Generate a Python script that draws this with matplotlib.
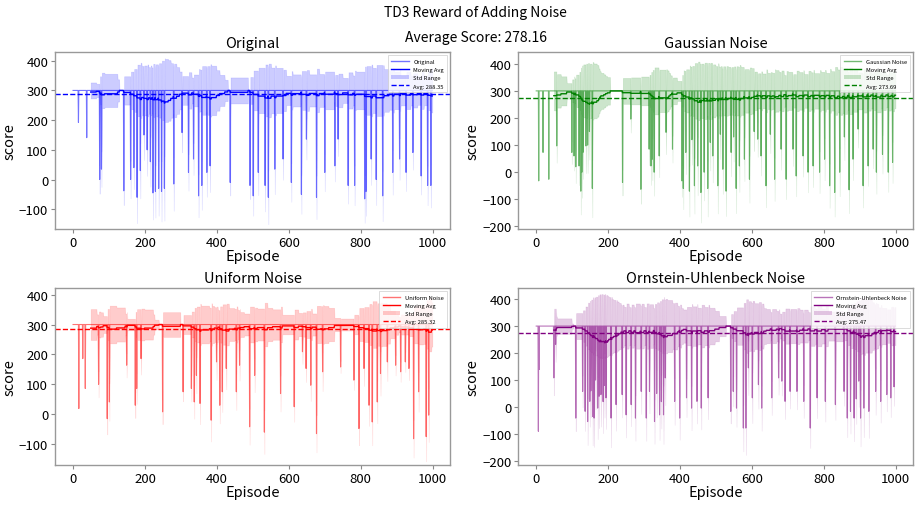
import numpy as np
import pandas as pd
import matplotlib
matplotlib.use("Agg")
import matplotlib.pyplot as plt
from matplotlib.lines import Line2D
from matplotlib.patches import Patch
from matplotlib.ticker import MultipleLocator
from matplotlib.colors import to_rgba

plt.rcParams['font.family'] = ['Noto Sans CJK SC', 'DejaVu Sans']

n_episodes = 1000
base_score = 300
window = 50

titles = ['Original', 'Gaussian Noise', 'Uniform Noise', 'Ornstein-Uhlenbeck Noise']
colors = ['blue', 'green', 'red', 'purple']
avg_scores = [288.35, 273.69, 285.32, 275.47]
overall_avg = 278.16
y_limits = [(-167, 429), (-210, 443), (-170, 422), (-215, 441)]

# episodes where the score drops below the ~300 plateau, and the score reached
orig_dip_ep = [15, 38, 74, 79, 141, 160, 169, 178, 187, 197, 206, 215, 222, 229, 238, 246, 254,
               280, 303, 321, 335, 349, 358, 372, 381, 437, 492, 501, 515, 534, 543, 561, 584,
               607, 635, 649, 677, 700, 728, 737, 765, 783, 811, 815, 829, 843, 861, 889, 908,
               926, 945, 968, 986, 995]
orig_dip_val = [192, 141, 0, 35, -38, 0, 40, -60, 30, 150, 100, 60, -45, -40, -30, -40, -30,
                -15, 158, 24, 69, -55, -20, 24, 46, -10, -20, -55, 24, -20, -60, 35, 69,
                -10, -50, 136, -60, 24, 46, 136, -20, -20, -65, -40, 69, 0, -55, 24, 69,
                24, 91, 12, -20, -20]

gauss_dip_ep = [7, 19, 35, 57, 99, 105, 110, 119, 124, 127, 130, 138, 143, 148, 156,
                240, 263, 291, 314, 319, 323, 328, 342, 361, 379, 405, 409, 416, 426, 433, 440,
                449, 458, 467, 477, 484, 491, 505, 512, 519, 528, 542, 549, 556, 565, 579, 593,
                606, 616, 625, 639, 651, 663, 681, 695, 714, 723, 742, 756, 770, 788, 802, 816,
                830, 844, 857, 870, 881, 895, 909, 923, 937, 946, 963, 979, 991]
gauss_dip_val = [-32, 73, -26, 97, 73, 60, 20, 23, -70, 0, 73, 97, 100, 150, -60,
                 -38, 196, -63, 85, 23, 48, 0, 60, 147, 85, -32, -60, 73, -70, 120, -50,
                 23, -75, 0, -60, 110, 60, -50, 140, 11, -70, 73, 130, -60, 23, 48, -26,
                 150, 122, 60, -50, 140, -26, 85, -26, 85, -14, 60, 0, 23, 0, 48, -50,
                 -75, 0, 130, -65, 48, 159, -50, 23, 85, 0, 66, 0, 36]

unif_dip_ep = [16, 27, 34, 71, 95, 101, 149, 173, 177, 189, 249, 306, 329, 337, 343, 353, 384,
               399, 408, 415, 426, 454, 463, 491, 505, 532, 577, 615, 638, 648, 661, 677, 694,
               744, 781, 795, 809, 823, 832, 846, 855, 874, 897, 911, 924, 934, 947, 961, 982,
               989]
unif_dip_val = [19, 186, 86, 100, -15, 41, 164, 30, 86, 186, 8, 75, 86, 41, 130, 36, -20,
                175, 30, 75, 153, 75, 164, -42, 130, -60, 69, 25, 209, 153, 97, -65, 142,
                158, 114, -48, 153, 30, -26, 41, 136, 175, 164, 142, 175, 153, -82, 75, -75,
                -3]

ou_dip_ep = [6, 8, 49, 54, 110, 129, 136, 143, 149, 152, 157, 161, 165, 171, 175, 180, 186, 190,
             194, 208, 222, 239, 250, 264, 276, 292, 306, 315, 329, 335, 343, 348, 354, 359,
             385, 399, 418, 432, 447, 459, 478, 541, 548, 557, 576, 583, 590, 601, 618, 627,
             655, 674, 683, 692, 706, 725, 744, 762, 781, 804, 832, 856, 865, 874, 884, 890,
             897, 902, 911, 925, 944, 958, 975, 986, 995]
ou_dip_val = [-90, 139, 108, 232, -41, 58, -16, -54, 21, 60, -35, -41, 100, -4, 40, 46, 20, 80,
              34, -41, 9, 46, -29, 9, -41, 58, -41, 58, -54, 50, -29, 20, -29, 108,
              21, -41, 34, -4, 21, -4, 34, -16, 58, -4, -78, -78, 145, 34, 83, -4,
              34, 108, 96, 21, 58, 58, 21, -78, 34, 21, 9, 58, -41, -16, -41, 30,
              96, -41, -4, -16, 58, 21, 46, 34, 75]

dip_eps = [orig_dip_ep, gauss_dip_ep, unif_dip_ep, ou_dip_ep]
dip_vals = [orig_dip_val, gauss_dip_val, unif_dip_val, ou_dip_val]


def build_scores(ep, val):
    s = np.full(n_episodes, float(base_score))
    s[np.asarray(ep)] = np.asarray(val, dtype=float)
    return s


fig, axes = plt.subplots(2, 2, figsize=(9.18, 5.06), dpi=100)
fig.subplots_adjust(left=0.060, right=0.995, top=0.895, bottom=0.079,
                    wspace=0.172, hspace=0.333)

for ax, title, color, avg, ep, val, ylim in zip(axes.flat, titles, colors, avg_scores,
                                               dip_eps, dip_vals, y_limits):
    scores = build_scores(ep, val)
    x = np.arange(n_episodes)
    ser = pd.Series(scores)
    ma = ser.rolling(window).mean()
    sd = ser.rolling(window).std()

    ax.fill_between(x, scores - sd, scores + sd, facecolor=to_rgba(color, 0.2),
                    edgecolor=to_rgba(color, 0.12), lw=0.5, label='Std Range')
    ax.plot(x, scores, color=color, alpha=0.55, lw=0.8, label=title)
    ax.plot(x, ma, color=color, lw=1.0, label='Moving Avg')
    ax.axhline(avg, color=color, ls='--', lw=1.0, label=f'Avg: {avg:.2f}')

    ax.set_xlim(-50, 1049)
    ax.set_ylim(*ylim)
    ax.yaxis.set_major_locator(MultipleLocator(100))
    ax.set_xticks([0, 200, 400, 600, 800, 1000])

    ax.set_title(title, fontsize=10.5, pad=4)
    ax.set_xlabel('Episode', fontsize=10.5, labelpad=0)
    ax.set_ylabel('score', fontsize=10.5, labelpad=2)
    ax.tick_params(labelsize=9.5, length=3, color='#888888', pad=2)
    for sp in ax.spines.values():
        sp.set_color('#999999')
        sp.set_linewidth(1.0)

    handles = [Line2D([], [], color=color, alpha=0.55, lw=1),
               Line2D([], [], color=color, lw=1.0),
               Patch(facecolor=color, alpha=0.2),
               Line2D([], [], color=color, ls='--', lw=1)]
    labels = [title, 'Moving Avg', 'Std Range', f'Avg: {avg:.2f}']
    leg = ax.legend(handles, labels, loc='upper right', fontsize=4.2, frameon=True,
                    handlelength=3, borderpad=0.6, labelspacing=0.55, edgecolor='#cccccc',
                    fancybox=False)
    leg.get_frame().set_linewidth(0.6)

fig.text(0.518, 1 - 13 / 506, 'TD3 Reward of Adding Noise', ha='center', va='center', fontsize=10)
fig.text(0.519, 1 - 38 / 506, f'Average Score: {overall_avg:.2f}', ha='center', va='center',
         fontsize=10)

fig.savefig('out.png', dpi=100)
